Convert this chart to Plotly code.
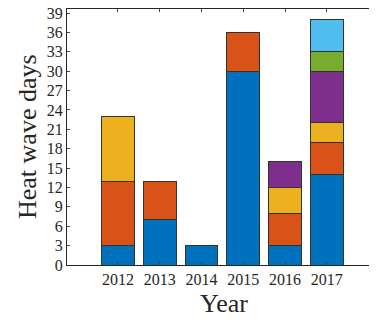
import plotly.graph_objects as go

years = ["2012", "2013", "2014", "2015", "2016", "2017"]
s1 = [3, 7, 3, 30, 3, 14]
s2 = [10, 6, 0, 6, 5, 5]
s3 = [10, 0, 0, 0, 4, 3]
s4 = [0, 0, 0, 0, 4, 8]
s5 = [0, 0, 0, 0, 0, 3]
s6 = [0, 0, 0, 0, 0, 5]
series = [s1, s2, s3, s4, s5, s6]
colors = ["#0072BD", "#D95319", "#EDB120", "#7E2F8E", "#77AC30", "#4DBEEE"]
yticks = list(range(0, 40, 3))

fig = go.Figure()
xs = list(range(len(years)))
for vals, c in zip(series, colors):
    fig.add_trace(go.Bar(x=xs, y=vals, marker=dict(color=c, line=dict(color="#333333", width=1)),
                         width=0.79, showlegend=False))

font = "Liberation Serif, DejaVu Serif, serif"
fig.add_annotation(text="Heat wave days", xref="paper", yref="paper", x=0, y=0.5,
                   xanchor="center", yanchor="middle", xshift=-40, textangle=-90,
                   showarrow=False, font=dict(size=26, family=font, color="#262626"))
fig.add_annotation(text="Year", xref="paper", yref="paper", x=0.5, y=0,
                   xanchor="center", yanchor="middle", xshift=3, yshift=-38,
                   showarrow=False, font=dict(size=26, family=font, color="#262626"))
fig.update_layout(
    barmode="stack", width=377, height=320,
    margin=dict(l=59, r=11, t=1, b=63),
    plot_bgcolor="white", paper_bgcolor="white",
    font=dict(family=font, color="#262626", size=16),
    xaxis=dict(range=[-1.22, 6.13], tickvals=xs, ticktext=years, ticks="inside", ticklen=3,
               showline=True, linecolor="#262626", linewidth=1, mirror="ticks",
               showgrid=False, zeroline=False, automargin=False,
               tickfont=dict(size=16)),
    yaxis=dict(range=[0, 39.63], tickvals=yticks, ticks="inside", ticklen=3,
               showline=True, linecolor="#262626", linewidth=1, mirror="ticks",
               showgrid=False, zeroline=False, automargin=False,
               ticklabeloverflow="allow", tickfont=dict(size=16)),
)
fig.write_html("out.html")
